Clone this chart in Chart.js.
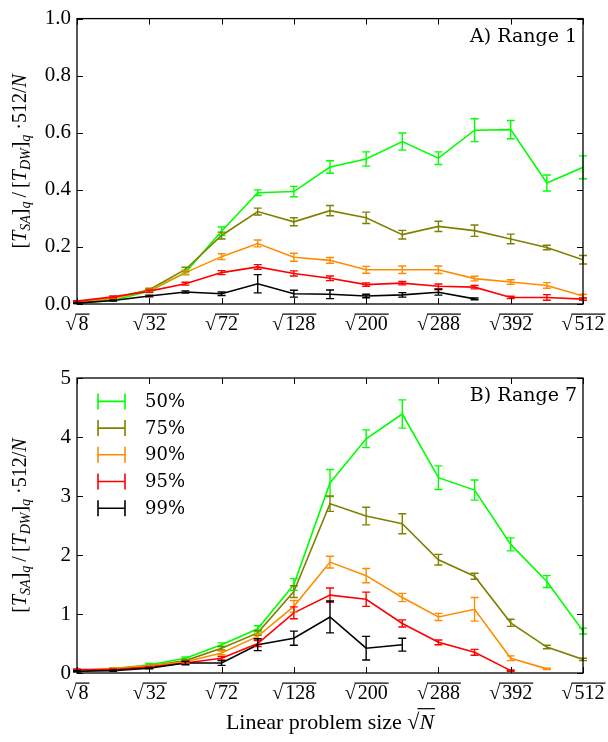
<!DOCTYPE html>
<html>
<head>
<meta charset="utf-8">
<script src="https://cdn.jsdelivr.net/npm/chart.js@4/dist/chart.umd.min.js"></script>
<style>
  body { margin: 0; background: #fff; width: 608px; height: 742px; position: relative; overflow: hidden; }
  canvas { position: absolute; left: 0; }
  #chartRange1 { top: 0; }
  #chartRange7 { top: 345px; }
</style>
</head>
<body>
<canvas id="chartRange1" width="608" height="345"></canvas>
<canvas id="chartRange7" width="608" height="397"></canvas>
<script>
// problem sizes N (x axis is sqrt(N))
const sizes = [8, 18, 32, 50, 72, 98, 128, 162, 200, 242, 288, 338, 392, 450, 512];
const tickSizes = [8, 32, 72, 128, 200, 288, 392, 512];
const quantiles = ['50%', '75%', '90%', '95%', '99%'];
const colors = ['#00ff00', '#808000', '#ff8c00', '#ff0000', '#000000'];

// A) Range 1
const r1q50 = [0.004, 0.013, 0.045, 0.11, 0.255, 0.39, 0.394, 0.48, 0.508, 0.569, 0.511, 0.609, 0.611, 0.424, 0.479];
const r1q50Err = [0.002, 0.003, 0.005, 0.008, 0.015, 0.01, 0.018, 0.022, 0.025, 0.03, 0.022, 0.04, 0.032, 0.028, 0.04];
const r1q75 = [0.005, 0.02, 0.05, 0.121, 0.24, 0.324, 0.288, 0.327, 0.302, 0.243, 0.272, 0.257, 0.228, 0.198, 0.155];
const r1q75Err = [0.002, 0.003, 0.005, 0.008, 0.012, 0.012, 0.014, 0.018, 0.02, 0.015, 0.018, 0.02, 0.017, 0.008, 0.015];
const r1q90 = [0.007, 0.02, 0.047, 0.11, 0.166, 0.212, 0.164, 0.153, 0.12, 0.12, 0.12, 0.089, 0.077, 0.065, 0.028];
const r1q90Err = [0.002, 0.003, 0.004, 0.006, 0.01, 0.012, 0.014, 0.01, 0.012, 0.013, 0.013, 0.008, 0.008, 0.01, 0.006];
const r1q95 = [0.01, 0.025, 0.045, 0.071, 0.11, 0.13, 0.107, 0.09, 0.068, 0.073, 0.062, 0.059, 0.023, 0.023, 0.017];
const r1q95Err = [0.002, 0.003, 0.004, 0.005, 0.007, 0.008, 0.009, 0.008, 0.006, 0.006, 0.008, 0.006, 0.004, 0.01, 0.004];
const r1q99 = [0.003, 0.012, 0.028, 0.042, 0.036, 0.071, 0.036, 0.034, 0.028, 0.032, 0.041, 0.018, null, null, null];
const r1q99Err = [0.001, 0.002, 0.003, 0.004, 0.006, 0.032, 0.012, 0.015, 0.006, 0.008, 0.01, 0.003, null, null, null];

// B) Range 7
const r7q50 = [0.03, 0.07, 0.14, 0.25, 0.48, 0.75, 1.5, 3.22, 3.97, 4.39, 3.31, 3.1, 2.18, 1.55, 0.71];
const r7q50Err = [0.01, 0.01, 0.02, 0.02, 0.03, 0.05, 0.1, 0.23, 0.15, 0.24, 0.2, 0.17, 0.11, 0.1, 0.05];
const r7q75 = [0.03, 0.06, 0.12, 0.21, 0.42, 0.68, 1.38, 2.87, 2.66, 2.53, 1.92, 1.64, 0.85, 0.44, 0.23];
const r7q75Err = [0.01, 0.01, 0.01, 0.02, 0.03, 0.04, 0.1, 0.13, 0.15, 0.17, 0.09, 0.05, 0.06, 0.03, 0.02];
const r7q90 = [0.04, 0.08, 0.12, 0.19, 0.34, 0.62, 1.13, 1.88, 1.65, 1.28, 0.95, 1.08, 0.25, 0.07, null];
const r7q90Err = [0.01, 0.01, 0.01, 0.02, 0.03, 0.04, 0.1, 0.1, 0.12, 0.07, 0.06, 0.2, 0.04, 0.01, null];
const r7q95 = [0.06, 0.06, 0.1, 0.17, 0.25, 0.5, 1.02, 1.32, 1.25, 0.84, 0.52, 0.35, 0.04, null, null];
const r7q95Err = [0.01, 0.01, 0.01, 0.02, 0.03, 0.05, 0.1, 0.12, 0.12, 0.06, 0.04, 0.05, 0.01, null, null];
const r7q99 = [0.03, 0.04, 0.08, 0.17, 0.17, 0.48, 0.59, 0.95, 0.42, 0.48, null, null, null, null, null];
const r7q99Err = [0.01, 0.01, 0.01, 0.03, 0.04, 0.1, 0.12, 0.27, 0.2, 0.11, null, null, null, null, null];

const serif = '"Liberation Serif", "DejaVu Serif", serif';

// text with italic / subscript pieces, like the math labels
function drawRich(ctx, parts, x, y, size) {
  const fonts = {
    r: size + 'px ' + serif,
    i: 'italic ' + size + 'px ' + serif,
    s: 'italic ' + Math.round(size * 0.7) + 'px ' + serif
  };
  let w = 0;
  parts.forEach(p => { ctx.font = fonts[p[1]]; w += ctx.measureText(p[0]).width; });
  let cx = x - w / 2;
  ctx.textAlign = 'left';
  ctx.textBaseline = 'alphabetic';
  parts.forEach(p => {
    ctx.font = fonts[p[1]];
    const pw = ctx.measureText(p[0]).width;
    ctx.fillText(p[0], cx, y + (p[1] === 's' ? size * 0.2 : 0));
    if (p[2]) {
      ctx.fillRect(cx - 2, y - size * 0.95, pw + 3, 1.2);
    }
    cx += pw;
  });
}

function drawSqrtLabel(ctx, n, x, y) {
  ctx.font = '20px ' + serif;
  const rad = ctx.measureText('\u221A');
  const num = ctx.measureText(String(n));
  const gap = 2;
  const w = rad.width + gap + num.width;
  const left = x - w / 2;
  ctx.textAlign = 'left';
  ctx.textBaseline = 'alphabetic';
  ctx.fillText('\u221A', left, y);
  ctx.fillText(String(n), left + rad.width + gap, y);
  const top = y - rad.actualBoundingBoxAscent;
  ctx.fillRect(left + rad.width - 1, top, num.width + gap + 2, 1.2);
}

const yTitle = [['[', 'r'], ['T', 'i'], ['SA', 's'], [']', 'r'], ['q', 's'], ['\u2009/\u2009', 'r'], ['[', 'r'], ['T', 'i'], ['DW', 's'], [']', 'r'], ['q', 's'], [' \u00B7512/', 'r'], ['N', 'i']];

const panelPlugin = {
  id: 'panel',
  afterDatasetsDraw(chart) {
    const ctx = chart.ctx;
    const ys = chart.scales.y;
    ctx.save();
    chart.data.datasets.forEach((ds, i) => {
      const meta = chart.getDatasetMeta(i);
      ctx.strokeStyle = ds.borderColor;
      ctx.lineWidth = 1.4;
      meta.data.forEach((pt, j) => {
        const d = ds.data[j];
        if (d.err == null) return;
        const y1 = ys.getPixelForValue(d.y + d.err);
        const y2 = ys.getPixelForValue(d.y - d.err);
        ctx.beginPath();
        ctx.moveTo(pt.x, y1); ctx.lineTo(pt.x, y2);
        ctx.moveTo(pt.x - 4, y1); ctx.lineTo(pt.x + 4, y1);
        ctx.moveTo(pt.x - 4, y2); ctx.lineTo(pt.x + 4, y2);
        ctx.stroke();
      });
    });
    ctx.restore();
  },
  afterDraw(chart, args, opts) {
    const ctx = chart.ctx;
    const a = chart.chartArea;
    const xs = chart.scales.x, ys = chart.scales.y;
    ctx.save();
    ctx.fillStyle = '#000';
    ctx.strokeStyle = '#000';
    ctx.lineWidth = 1.3;
    ctx.strokeRect(a.left, a.top, a.right - a.left, a.bottom - a.top);
    // inward ticks on all four sides
    ctx.lineWidth = 1;
    ctx.beginPath();
    tickSizes.forEach(n => {
      const x = Math.round(xs.getPixelForValue(Math.sqrt(n))) + 0.5;
      ctx.moveTo(x, a.bottom); ctx.lineTo(x, a.bottom - 6);
      ctx.moveTo(x, a.top); ctx.lineTo(x, a.top + 6);
    });
    ys.ticks.forEach(t => {
      const y = Math.round(ys.getPixelForValue(t.value)) + 0.5;
      ctx.moveTo(a.left, y); ctx.lineTo(a.left + 6, y);
      ctx.moveTo(a.right, y); ctx.lineTo(a.right - 6, y);
    });
    ctx.stroke();
    // x tick labels
    tickSizes.forEach(n => drawSqrtLabel(ctx, n, xs.getPixelForValue(Math.sqrt(n)), a.bottom + 25.5));
    // panel title
    ctx.font = '19px "DejaVu Serif", serif';
    ctx.textAlign = 'right';
    ctx.textBaseline = 'alphabetic';
    ctx.fillText(opts.title, a.right - 6, a.top + 23);
    // y title
    ctx.save();
    ctx.translate(26, (a.top + a.bottom) / 2);
    ctx.rotate(-Math.PI / 2);
    drawRich(ctx, yTitle, 0, 0, 20);
    ctx.restore();
    // x title
    if (opts.xTitle) {
      drawRich(ctx, [['Linear problem size ', 'r'], ['\u221A', 'r'], ['N', 'i', true]], (a.left + a.right) / 2, a.bottom + 56, 22);
    }
    // legend with error bar glyphs
    if (opts.legend) {
      chart.data.datasets.forEach((ds, i) => {
        const y = a.top + 23.4 + i * 26.7;
        const x1 = a.left + 21, x2 = a.left + 48;
        ctx.strokeStyle = ds.borderColor;
        ctx.lineWidth = 1.6;
        ctx.beginPath();
        ctx.moveTo(x1, y); ctx.lineTo(x2, y);
        ctx.moveTo(x1, y - 8); ctx.lineTo(x1, y + 8);
        ctx.moveTo(x2, y - 8); ctx.lineTo(x2, y + 8);
        ctx.stroke();
        ctx.fillStyle = '#000';
        ctx.font = '18px "DejaVu Serif", serif';
        ctx.textAlign = 'left';
        ctx.textBaseline = 'middle';
        ctx.fillText(ds.label, a.left + 68, y + 1);
      });
    }
    ctx.restore();
  }
};

function buildDatasets(series, errs) {
  return series.map((vals, i) => ({
    label: quantiles[i],
    data: sizes.map((n, j) => ({ x: Math.sqrt(n), y: vals[j], err: errs[i][j] })).filter(p => p.y !== null),
    borderColor: colors[i],
    backgroundColor: colors[i],
    borderWidth: 1.6,
    pointRadius: 0,
    tension: 0,
    order: series.length - i
  }));
}

function makeChart(id, series, errs, yMax, yStep, yFmt, padTop, xAxisH, opts) {
  return new Chart(document.getElementById(id), {
    type: 'line',
    data: { datasets: buildDatasets(series, errs) },
    options: {
      responsive: false,
      animation: false,
      layout: { padding: { top: padTop, right: 25, left: 0, bottom: 0 } },
      plugins: { legend: { display: false }, tooltip: { enabled: false }, panel: opts },
      scales: {
        x: {
          type: 'linear',
          min: Math.sqrt(tickSizes[0]),
          max: Math.sqrt(tickSizes[tickSizes.length - 1]),
          grid: { display: false, drawTicks: false },
          border: { display: false },
          ticks: { display: false },
          afterFit: s => { s.height = xAxisH; }
        },
        y: {
          min: 0,
          max: yMax,
          grid: { display: false, drawTicks: false },
          border: { display: false },
          ticks: {
            stepSize: yStep,
            padding: 6,
            color: '#000',
            font: { family: 'Liberation Serif', size: 21 },
            callback: yFmt
          },
          afterFit: s => { s.width = 77; }
        }
      }
    },
    plugins: [panelPlugin]
  });
}

makeChart('chartRange1',
  [r1q50, r1q75, r1q90, r1q95, r1q99],
  [r1q50Err, r1q75Err, r1q90Err, r1q95Err, r1q99Err],
  1.0, 0.2, v => v.toFixed(1), 9, 41,
  { title: 'A) Range 1', legend: false, xTitle: false });

makeChart('chartRange7',
  [r7q50, r7q75, r7q90, r7q95, r7q99],
  [r7q50Err, r7q75Err, r7q90Err, r7q95Err, r7q99Err],
  5, 1, v => String(Math.round(v)), 33, 69,
  { title: 'B) Range 7', legend: true, xTitle: true });
</script>
</body>
</html>
